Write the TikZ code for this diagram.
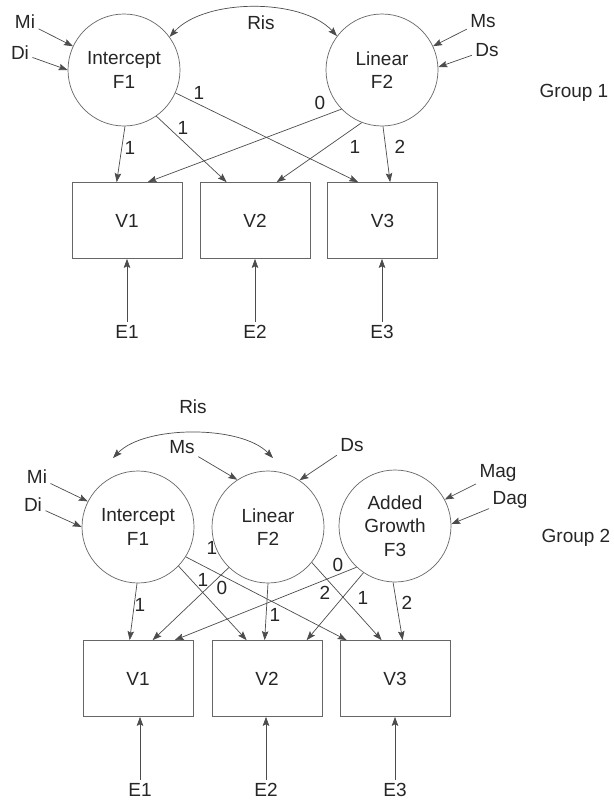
\documentclass[tikz,border=0pt]{standalone}
\usepackage{fontspec}
\setmainfont{Liberation Sans}
\usetikzlibrary{arrows.meta,calc}
\begin{document}
\begin{tikzpicture}[x=1pt,y=-1pt,
  every node/.style={font=\fontsize{19}{23.5}\selectfont, text=black!85},
  latent/.style={circle, draw=black!60, line width=0.7pt, minimum size=112pt, inner sep=0pt, align=center},
  obs/.style={rectangle, draw=black!60, line width=0.7pt, minimum width=110pt, minimum height=76pt, inner sep=0pt},
  lbl/.style={inner sep=1pt},
  arr/.style={draw=black!70, line width=0.7pt, -{Stealth[length=9pt,width=6.5pt,inset=1.5pt]}},
  dbl/.style={draw=black!70, line width=0.7pt, {Stealth[length=9pt,width=6.5pt,inset=1.5pt]}-{Stealth[length=9pt,width=6.5pt,inset=1.5pt]}}
]
\path[use as bounding box, fill=white] (0,0) rectangle (613,803);

% ---------------- Group 1 ----------------
\node[latent] (F1a) at (124,70) {Intercept\\F1};
\node[latent] (F2a) at (382,70) {Linear\\F2};
\node[obs] (V1a) at (127,220.5) {V1};
\node[obs] (V2a) at (255,220.5) {V2};
\node[obs] (V3a) at (382.5,220.5) {V3};
\node (E1a) at (127,332) {E1};
\node (E2a) at (255,332) {E2};
\node (E3a) at (382,332) {E3};
\node (Mia) at (25,22) {Mi};
\node (Dia) at (20,53) {Di};
\node (Msa) at (483,21) {Ms};
\node (Dsa) at (487,50) {Ds};
\node (Risa) at (261,23) {Ris};
\node (G1) at (574,93) {Group 1};

\draw[dbl] (F1a.36) .. controls (205,-2) and (302,-2) .. (F2a.143);
\draw[arr] (Mia) -- (F1a.155);
\draw[arr] (Dia) -- (F1a.180);
\draw[arr] (Msa) -- (F2a.25);
\draw[arr] (Dsa) -- (F2a.3);

\draw[arr] (F1a.271) -- ($(V1a.north west)+(45,0)$);
\draw[arr] (F1a.305) -- ($(V2a.north west)+(27,0)$);
\draw[arr] (F1a.336) -- ($(V3a.north west)+(31,0)$);
\draw[arr] (F2a.224) -- ($(V1a.north west)+(76,0)$);
\draw[arr] (F2a.249) -- ($(V2a.north west)+(77,0)$);
\draw[arr] (F2a.271) -- ($(V3a.north west)+(63,0)$);
\node[lbl] (la1) at (130,148) {1};
\node[lbl] (la2) at (183,128) {1};
\node[lbl] (la3) at (199,93) {1};
\node[lbl] (la4) at (320,103) {0};
\node[lbl] (la5) at (355,147) {1};
\node[lbl] (la6) at (400,147) {2};

\draw[arr] (E1a) -- (E1a |- V1a.south);
\draw[arr] (E2a) -- (E2a |- V2a.south);
\draw[arr] (E3a) -- (E3a |- V3a.south);

% ---------------- Group 2 ----------------
\node[latent] (F1b) at (138,527) {Intercept\\F1};
\node[latent] (F2b) at (268,527) {Linear\\F2};
\node[latent] (F3b) at (395,526) {Added\\Growth\\F3};
\node[obs] (V1b) at (138,678.5) {V1};
\node[obs] (V2b) at (267,678.5) {V2};
\node[obs] (V3b) at (395,678.5) {V3};
\node (E1b) at (140,790) {E1};
\node (E2b) at (266,790) {E2};
\node (E3b) at (395,790) {E3};
\node (Mib) at (37,477) {Mi};
\node (Dib) at (33,505) {Di};
\node (Msb) at (182,447) {Ms};
\node (Dsb) at (352,445) {Ds};
\node (Magb) at (498,473) {Mag};
\node (Dagb) at (510,500) {Dag};
\node (Risb) at (193,407) {Ris};
\node (G2) at (576,538) {Group 2};

\coordinate (rb1) at (113,458);
\coordinate (rb2) at (273,458);
\draw[dbl] (rb1) .. controls (145,425) and (241,425) .. (rb2);
\draw[arr] (Mib) -- (F1b.153);
\draw[arr] (Dib) -- (F1b.180);
\draw[arr] (Msb) -- (F2b.123);
\draw[arr] (Dsb) -- (F2b.56);
\draw[arr] (Magb) -- (F3b.28);
\draw[arr] (Dagb) -- (F3b.2);

\draw[arr] (F1b.269) -- ($(V1b.north west)+(47,0)$);
\draw[arr] (F1b.316) -- ($(V2b.north west)+(35,0)$);
\draw[arr] (F1b.328) -- ($(V3b.north west)+(7,0)$);
\draw[arr] (F2b.226) -- ($(V1b.north west)+(70,0)$);
\draw[arr] (F2b.270) -- ($(V2b.north west)+(53,0)$);
\draw[arr] (F2b.321) -- ($(V3b.north west)+(42,0)$);
\draw[arr] (F3b.227) -- ($(V1b.north west)+(92,0)$);
\draw[arr] (F3b.236) -- ($(V2b.north west)+(95,0)$);
\draw[arr] (F3b.268) -- ($(V3b.north west)+(63,0)$);
\node[lbl] (lb1) at (140,605) {1};
\node[lbl] (lb2) at (203,580) {1};
\node[lbl] (lb3) at (212,548) {1};
\node[lbl] (lb4) at (222,588) {0};
\node[lbl] (lb5) at (275,615) {1};
\node[lbl] (lb6) at (325,593) {2};
\node[lbl] (lb7) at (338,565) {0};
\node[lbl] (lb8) at (363,598) {1};
\node[lbl] (lb9) at (407,603) {2};

\draw[arr] (E1b) -- (E1b |- V1b.south);
\draw[arr] (E2b) -- (E2b |- V2b.south);
\draw[arr] (E3b) -- (E3b |- V3b.south);
\end{tikzpicture}
\end{document}
